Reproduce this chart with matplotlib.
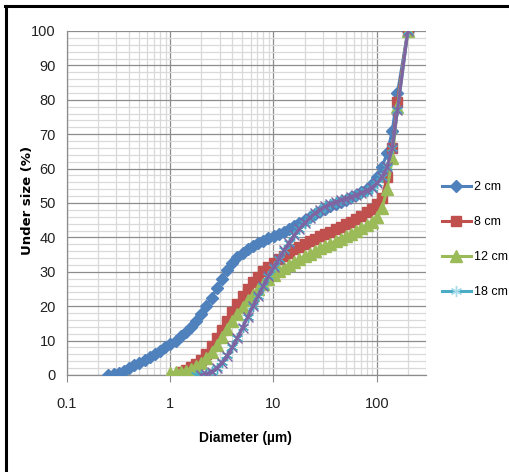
import numpy as np
import matplotlib
matplotlib.use("Agg")
import matplotlib.pyplot as plt
from matplotlib.lines import Line2D
from matplotlib.ticker import LogLocator, MultipleLocator, FixedLocator, FixedFormatter

# ---------------- data ----------------
diam = [0.252, 0.283, 0.317, 0.356, 0.399, 0.448, 0.502, 0.564, 0.632, 0.710,
        0.796, 0.893, 1.002, 1.125, 1.262, 1.416, 1.589, 1.783, 2.000, 2.244,
        2.518, 2.825, 3.170, 3.557, 3.991, 4.477, 5.024, 5.637, 6.325, 7.096,
        7.962, 8.934, 10.024, 11.247, 12.619, 14.159, 15.887, 17.825, 20.000, 22.440,
        25.179, 28.251, 31.698, 35.566, 39.905, 44.774, 50.238, 56.368, 63.246, 70.963,
        79.621, 89.337, 100.237, 112.468, 126.191, 141.589, 158.866, 200.0]

cm2 = [0.0, 0.3, 0.7, 1.3, 2.0, 2.8, 3.6, 4.5, 5.3, 6.2,
       7.1, 8.0, 9.0, 10.0, 11.2, 12.5, 14.0, 15.8, 17.8, 20.0,
       22.5, 25.2, 28.0, 30.5, 32.6, 34.3, 35.6, 36.6, 37.5, 38.3,
       39.0, 39.7, 40.3, 41.0, 41.7, 42.5, 43.3, 44.1, 45.0, 45.9,
       46.8, 47.6, 48.4, 49.1, 49.8, 50.4, 51.0, 51.6, 52.3, 53.1,
       54.0, 55.5, 57.5, 60.5, 64.5, 71.0, 82.0, 100.0]

# 8 cm starts at 1.262 um
cm8_d = diam[14:]
cm8 = [1.0, 1.5, 2.2, 3.2, 4.5, 6.2,
       8.3, 10.7, 13.2, 15.8, 18.3, 20.7, 23.0, 25.0, 26.9, 28.6,
       30.1, 31.4, 32.6, 33.7, 34.7, 35.6, 36.5, 37.3, 38.1, 38.9,
       39.6, 40.3, 41.0, 41.7, 42.4, 43.1, 43.8, 44.6, 45.4, 46.3,
       47.3, 48.4, 49.7, 51.5, 57.5, 66.0, 79.5, 100.0]

# 12 cm starts at 1.002 um
cm12_d = diam[12:]
cm12 = [0.5, 0.8, 1.0, 1.3, 1.8, 2.6, 3.6, 5.0,
        6.8, 8.8, 11.0, 13.3, 15.6, 17.8, 19.8, 21.7, 23.4, 25.0,
        26.5, 27.8, 29.0, 30.1, 31.1, 32.0, 32.9, 33.7, 34.5, 35.3,
        36.1, 36.8, 37.5, 38.2, 38.9, 39.6, 40.3, 41.0, 41.8, 42.6,
        43.5, 44.6, 46.0, 48.5, 54.0, 63.0, 78.0, 100.0]

# 18 cm starts at 1.783 um
cm18_d = diam[17:]
cm18 = [0.0, 0.1, 0.4, 1.0,
        2.1, 3.7, 5.7, 8.1, 10.9, 13.9, 16.9, 20.0, 23.0, 25.9,
        28.7, 31.3, 33.8, 36.2, 38.5, 40.6, 42.5, 44.2, 45.7, 47.0,
        48.1, 49.0, 49.7, 50.3, 50.8, 51.3, 51.8, 52.3, 52.9, 53.6,
        54.5, 55.7, 57.5, 60.5, 66.0, 77.0, 100.0]

# extra series (no legend entry) starts at 2.000 um
extra_d = diam[18:]
extra = [0.0, 0.3,
         0.9, 2.0, 3.6, 5.6, 8.0, 10.8, 13.8, 16.9, 20.0, 23.0,
         25.9, 28.7, 31.3, 33.8, 36.2, 38.5, 40.6, 42.5, 44.2, 45.7,
         47.0, 48.1, 49.0, 49.7, 50.3, 50.8, 51.3, 51.8, 52.3, 52.9,
         53.6, 54.5, 55.7, 57.5, 60.5, 66.0, 77.0, 100.0]

labels = ["2 cm", "8 cm", "12 cm", "18 cm"]
x_ticks = [0.1, 1, 10, 100]
x_tick_labels = ["0.1", "1", "10", "100"]

# ---------------- style ----------------
base = ["Liberation Sans", "DejaVu Sans"]
plt.rcParams["font.family"] = base

fig = plt.figure(figsize=(5.09, 4.72), dpi=100)
ax = fig.add_axes([67 / 509, (472 - 375) / 472, (426 - 67) / 509, (375 - 31) / 472])

c_blue = "#4F81BD"
c_red = "#C0504D"
c_green = "#9BBB59"
c_cyan = "#4BACC6"
c_purple = "#8064A2"

lw = 2.2
ax.plot(diam, cm2, color=c_blue, lw=lw, marker="D", ms=6.5, mec=c_blue, mfc=c_blue, zorder=3)
ax.plot(cm8_d, cm8, color=c_red, lw=lw, marker="s", ms=7, mec=c_red, mfc=c_red, zorder=4)
ax.plot(cm12_d, cm12, color=c_green, lw=lw, marker="^", ms=8.5, mec=c_green, mfc=c_green, zorder=5)
ax.plot(cm18_d, cm18, color=c_cyan, lw=lw, marker=(6, 2, 0), ms=8, mec=c_cyan, mew=1.0, zorder=6)
ax.plot(extra_d, extra, color=c_purple, lw=lw, marker="x", ms=7, mec=c_purple, mew=1.0, zorder=7)

ax.set_xscale("log")
ax.set_xlim(0.1, 300)
ax.set_ylim(0, 100)

ax.xaxis.set_major_locator(FixedLocator(x_ticks))
ax.xaxis.set_major_formatter(FixedFormatter(x_tick_labels))
ax.xaxis.set_minor_locator(LogLocator(base=10, subs=np.arange(2, 10), numticks=20))
ax.xaxis.set_minor_formatter(plt.NullFormatter())
ax.yaxis.set_major_locator(MultipleLocator(10))
ax.yaxis.set_minor_locator(MultipleLocator(2))

ax.grid(which="major", color="#8C8C8C", lw=0.9, zorder=0)
ax.grid(which="minor", color="#D9D9D9", lw=0.9, zorder=0)
ax.set_axisbelow(True)

for s in ["left", "bottom"]:
    ax.spines[s].set_color("#8C8C8C")
    ax.spines[s].set_linewidth(0.9)
for s in ["top", "right"]:
    ax.spines[s].set_visible(False)

ax.tick_params(axis="x", which="major", length=5, color="#8C8C8C", pad=11, labelsize=10.5, labelcolor="#222222")
ax.tick_params(axis="x", which="minor", length=0)
ax.tick_params(axis="y", which="both", length=0, pad=8, labelsize=10.5, labelcolor="#222222")

ax.set_xlabel("Diameter (\u00b5m)", fontsize=10, fontweight="bold")
ax.xaxis.set_label_coords((245 - 67) / 359, -(431 - 375) / 344)
ax.set_ylabel("Under size (%)", fontsize=9.5, fontweight="bold", family=["DejaVu Sans"])
ax.yaxis.set_label_coords((34 - 67) / 359, (375 - 200) / 344)

handles = [
    Line2D([], [], color=c_blue, lw=lw, marker="D", ms=6.5, mfc=c_blue, mec=c_blue),
    Line2D([], [], color=c_red, lw=lw, marker="s", ms=7, mfc=c_red, mec=c_red),
    Line2D([], [], color=c_green, lw=lw, marker="^", ms=8.5, mfc=c_green, mec=c_green),
    Line2D([], [], color=c_cyan, lw=lw, marker=(6, 2, 0), ms=8, mec="#A8DCEA", mew=1.0),
]
fig.legend(handles, labels, loc="upper left", bbox_to_anchor=(437 / 509, 1 - 176 / 472),
           frameon=False, fontsize=9, handlelength=2.3, handletextpad=0.25,
           labelspacing=1.85, borderaxespad=0)

# outer border (top and left)
fig.add_artist(Line2D([5 / 509, 1], [1 - 6 / 472, 1 - 6 / 472], transform=fig.transFigure,
                      color="black", lw=2.2))
fig.add_artist(Line2D([6 / 509, 6 / 509], [0, 1 - 6 / 472], transform=fig.transFigure,
                      color="black", lw=2.2))

fig.savefig("out.png", dpi=100)
